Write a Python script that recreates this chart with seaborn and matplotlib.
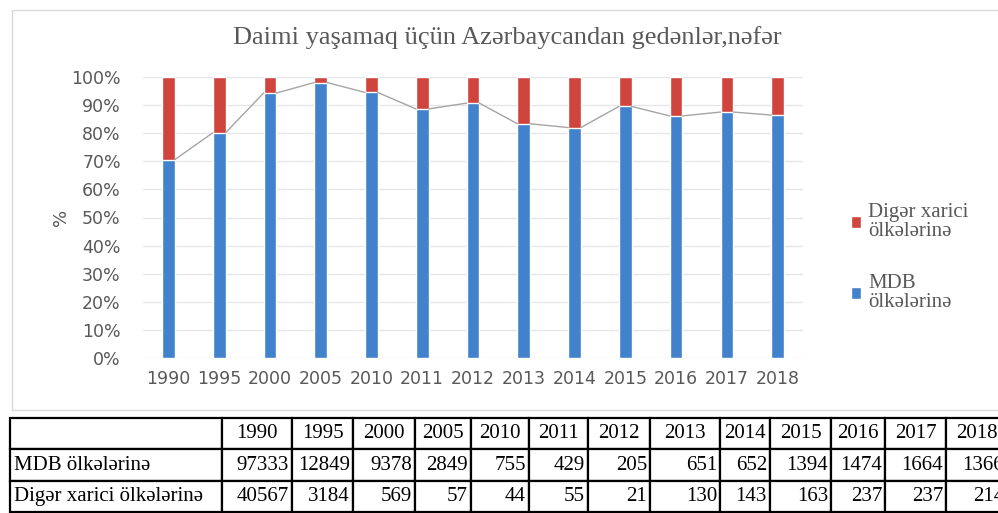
import matplotlib
matplotlib.use("Agg")
import matplotlib.pyplot as plt
import seaborn as sns
import numpy as np
from matplotlib.patches import Rectangle

# data from the table
years = ["1990", "1995", "2000", "2005", "2010", "2011", "2012",
         "2013", "2014", "2015", "2016", "2017", "2018"]
mdb = [97333, 12849, 9378, 2849, 755, 429, 205, 651, 652, 1394, 1474, 1664, 1366]
diger = [40567, 3184, 569, 57, 44, 55, 21, 130, 143, 163, 237, 237, 214]

row_labels = ["MDB ölkələrinə", "Digər xarici ölkələrinə"]
legend_labels = ["Digər xarici\nölkələrinə", "MDB\nölkələrinə"]
title = "Daimi yaşamaq üçün Azərbaycandan gedənlər,nəfər"

blue = "#4281cc"
red = "#d0443e"
gray = "#595959"

mdb_share = 100 * np.array(mdb) / (np.array(mdb) + np.array(diger))
total = [100] * len(years)

sns.set_style("white")
plt.rcParams["font.family"] = ["DejaVu Sans"]

W, H = 998, 513
fig = plt.figure(figsize=(W / 100, H / 100), dpi=100)

# faint outer frame of the chart
fig.patches.append(Rectangle((12 / W, 1 - 410 / H), 1.0, (410 - 10) / H,
                             transform=fig.transFigure, fill=False,
                             edgecolor="#d9d9d9", linewidth=1))

ax = fig.add_axes([143 / W, 1 - 358 / H, (803 - 143) / W, (358 - 77) / H])

sns.barplot(x=years, y=total, color=red, width=0.25, ax=ax,
            label=legend_labels[0], saturation=1, zorder=2)
sns.barplot(x=years, y=mdb_share, color=blue, width=0.25, ax=ax,
            label=legend_labels[1], saturation=1, zorder=3)

# series lines between tops of the blue bars
bars = ax.containers[-1]
for a, b in zip(bars[:-1], bars[1:]):
    ax.plot([a.get_x() + a.get_width(), b.get_x()],
            [a.get_height(), b.get_height()],
            color="#a5a5a5", linewidth=1, zorder=4)

ax.set_ylim(0, 100)
ax.set_xlim(-0.5, len(years) - 0.5)
ax.set_yticks(range(0, 101, 10))
ax.set_yticklabels([f"{v}%" for v in range(0, 101, 10)])
ax.yaxis.grid(True, color="#e6e6e6", linewidth=1, zorder=0)
ax.set_axisbelow(True)
for s in ax.spines.values():
    s.set_visible(False)
ax.tick_params(axis="both", length=0, labelsize=12.5, colors=gray)
ax.tick_params(axis="y", pad=16)
ax.tick_params(axis="x", pad=9)
ax.set_ylabel("%", fontsize=13, color=gray, labelpad=1)
ax.set_xlabel("")

fig.text(507 / W, 1 - 38 / H, title, ha="center", va="center",
         fontsize=19, color=gray, family="Liberation Serif")

leg = ax.legend(loc="upper left", bbox_to_anchor=(832 / W, 1 - 184 / H),
                bbox_transform=fig.transFigure, frameon=False,
                prop={"family": "Liberation Serif", "size": 15},
                handlelength=0.5, handleheight=0.5, handletextpad=0.35,
                labelspacing=1.55, labelcolor=gray)
for t in leg.get_texts():
    t.set_linespacing(1.05)

# data table below the chart
col_px = [212, 70, 61, 62, 56, 58, 59, 62, 70, 50, 61, 54, 61, 61]
tab_ax = fig.add_axes([10 / W, 1 - 512 / H, sum(col_px) / W, (512 - 418) / H])
tab_ax.axis("off")
cell_text = [[""] + years,
             [row_labels[0]] + [str(v) for v in mdb],
             [row_labels[1]] + [str(v) for v in diger]]
widths = [c / sum(col_px) for c in col_px]
tbl = tab_ax.table(cellText=cell_text, colWidths=widths, bbox=[0, 0, 1, 1])
tbl.auto_set_font_size(False)
tbl.set_fontsize(15)
for (r, c), cell in tbl.get_celld().items():
    cell.set_linewidth(1.6)
    cell.set_edgecolor("black")
    txt = cell.get_text()
    txt.set_fontfamily("Liberation Serif")
    txt.set_color("black")
    if r == 0:
        txt.set_horizontalalignment("center")
    elif c == 0:
        txt.set_horizontalalignment("left")
        cell.PAD = 4 / col_px[c]
    else:
        txt.set_horizontalalignment("right")
        cell.PAD = 3 / col_px[c]

fig.savefig("out.png", dpi=100)
